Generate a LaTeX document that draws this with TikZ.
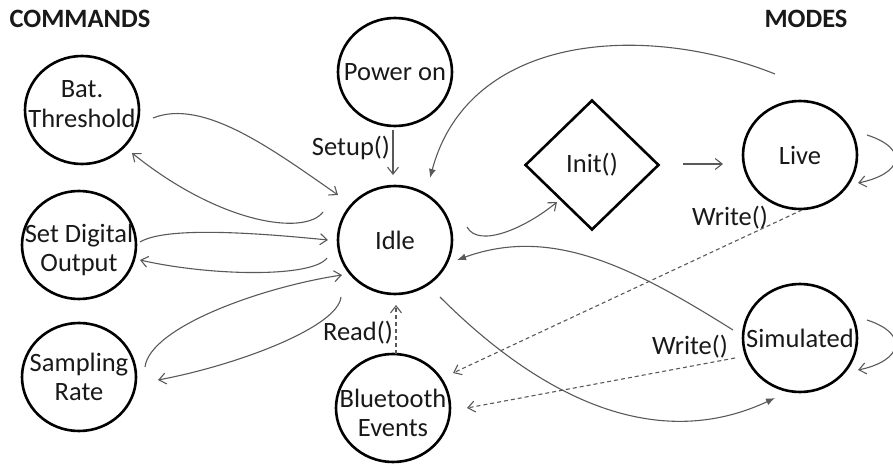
\documentclass[tikz,border=0pt]{standalone}
\usepackage{fontspec}
\setmainfont{Carlito}
\usetikzlibrary{shapes.geometric,arrows.meta,calc}
\begin{document}
\begin{tikzpicture}[x=1pt,y=1pt,
  st/.style={ellipse,draw=black,line width=2.6pt,minimum width=114pt,minimum height=108pt,inner sep=0pt},
  dia/.style={diamond,draw=black,line width=2.6pt,minimum width=134pt,minimum height=130pt,inner sep=0pt},
  lbl/.style={font=\fontsize{26.5}{29.5}\selectfont,align=center,inner sep=0pt,text=black!90},
  head/.style={font=\fontsize{26.5}{29.5}\selectfont\bfseries,inner sep=0pt,text=black!90},
  edge/.style={draw=black!65,line width=1.1pt,-{Straight Barb[length=7pt,width=11pt,line width=1.1pt]}},
  fedge/.style={draw=black!65,line width=1.1pt,-{Latex[length=9pt,width=7pt]}},
  dedge/.style={edge,dash pattern=on 4pt off 3pt}
]
\useasboundingbox (0,0) rectangle (893,464);

\node[head] (cmd) at (80,445) {COMMANDS};
\node[head] (modes) at (806,445) {MODES};

\node[st,label={[lbl,yshift=6pt]center:Bat.\\Threshold}] (bat) at (82,354) {};
\node[st,label={[lbl,yshift=-5pt]center:Set Digital\\Output}] (setd) at (79,219) {};
\node[st,label={[lbl]center:Sampling\\Rate}] (samp) at (79,87) {};
\node[st,label={[lbl]center:Power on}] (power) at (395,392) {};
\node[st,label={[lbl]center:Idle}] (idle) at (395,224) {};
\node[st,label={[lbl,yshift=-5pt]center:Bluetooth\\Events}] (blue) at (393,56) {};
\node[dia,label={[lbl]center:Init()}] (init) at (592,299) {};
\node[st,label={[lbl]center:Live}] (live) at (800,309) {};
\node[st,label={[lbl]center:Simulated}] (sim) at (800,126) {};

\node[lbl] (setup) at (351,316) {Setup()};
\node[lbl] (w1) at (730,246) {Write()};
\node[lbl] (read) at (358,131) {Read()};
\node[lbl] (w2) at (690,117) {Write()};

\draw[edge] ($(power)+(-2,-58)$) -- ($(idle)+(-2,65)$);
\draw[edge] ($(bat)+(71,-8)$) .. controls +(50,20) and +(-66,46) .. ($(idle)+(-57,45)$);
\draw[edge] ($(idle)+(-72,28)$) .. controls +(-18,-24) and +(88,-71) .. ($(bat)+(50,-43)$);
\draw[edge] ($(setd)+(61,3)$) .. controls +(25,15) and +(-80,8) .. ($(idle)+(-67,0)$);
\draw[edge] ($(idle)+(-68,-18)$) .. controls +(-15,-20) and +(70,-16) .. ($(setd)+(61,-15)$);
\draw[edge] ($(samp)+(66,10)$) .. controls +(5,40) and +(-80,-12) .. ($(idle)+(-53,-35)$);
\draw[edge] ($(idle)+(-54,-57)$) .. controls +(-3,-30) and +(80,15) .. ($(samp)+(79,-3)$);
\draw[dedge] ($(blue)+(3,54)$) -- ($(idle)+(1,-65)$);
\draw[edge] ($(idle)+(72,13)$) .. controls +(12,-22) and +(-30,-25) .. ($(init)+(-35,-37)$);
\draw[edge] ($(init)+(91,1)$) -- ($(live)+(-77,-9)$);
\draw[fedge] ($(live)+(-25,81)$) .. controls +(-130,52) and +(39,145) .. ($(idle)+(35,62)$);
\draw[edge] ($(live)+(67,20)$) .. controls +(43,-14) and +(44,9) .. ($(live)+(58,-28)$);
\draw[edge] ($(sim)+(67,18)$) .. controls +(43,-14) and +(44,9) .. ($(sim)+(58,-32)$);
\draw[fedge] ($(sim)+(-67,8)$) .. controls +(-102,64) and +(94,34) .. ($(idle)+(62,-20)$);
\draw[fedge] ($(idle)+(45,-57)$) .. controls +(113,-113) and +(-109,-51) .. ($(sim)+(-25,-60)$);
\draw[dedge] ($(live)+(2,-55)$) -- ($(blue)+(60,35)$);
\draw[dedge] ($(sim)+(-65,-20)$) -- ($(blue)+(74,0)$);
\end{tikzpicture}
\end{document}
